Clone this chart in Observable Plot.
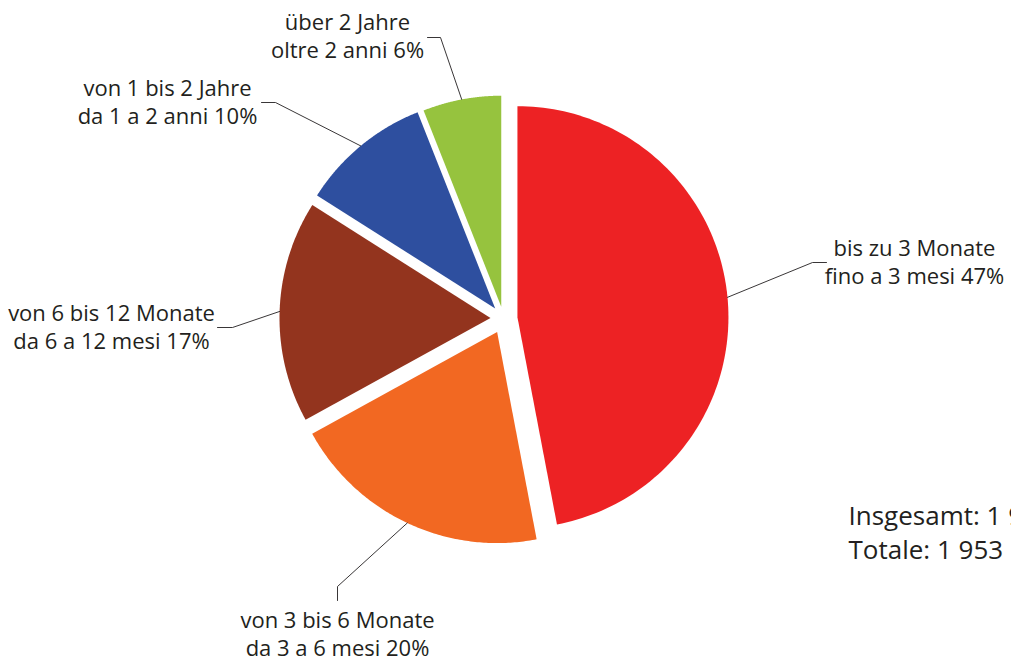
<!DOCTYPE html>
<html><head><meta charset="utf-8">
<script src="https://cdn.jsdelivr.net/npm/d3@7"></script>
<script src="https://cdn.jsdelivr.net/npm/@observablehq/plot@0.6"></script>
<style>html,body{margin:0;padding:0;background:#fff} svg{display:block}</style>
</head><body><div id="chart"></div>
<script>
// ---- data ----
const categoriesDE = ["bis zu 3 Monate", "von 3 bis 6 Monate", "von 6 bis 12 Monate", "von 1 bis 2 Jahre", "über 2 Jahre"];
const categoriesIT = ["fino a 3 mesi", "da 3 a 6 mesi", "da 6 a 12 mesi", "da 1 a 2 anni", "oltre 2 anni"];
const shares = [47, 20, 17, 10, 6];
const colors = ["#ED2224", "#F26822", "#93341E", "#2E4F9F", "#96C33E"];
const totalLabels = ["Insgesamt: 1 953", "Totale: 1 953"];

// ---- layout ----
const W = 1011, H = 659;
const CX = 503, CY = 318, R = 211;
const explode = [14, 15, 13, 13, 12];
const labelLayout = [
  {elbow: [812, 262], end: [826, 262], text: [914, 283]},
  {elbow: [337, 586], end: [337, 600], text: [337, 655]},
  {elbow: [232, 327], end: [217, 327], text: [111, 348]},
  {elbow: [275, 102], end: [261, 102], text: [167, 123]},
  {elbow: [440, 37], end: [427, 37], text: [347, 57]}
];
const ink = "#231F20";

const arcs = d3.pie().sort(null).value(d => d)(shares);

const slices = arcs.map((a, i) => {
  const mid = (a.startAngle + a.endAngle) / 2;
  const ox = CX + explode[i] * Math.sin(mid);
  const oy = CY - explode[i] * Math.cos(mid);
  const n = 120;
  const pts = [{x: ox, y: oy}];
  for (let k = 0; k <= n; k++) {
    const t = a.startAngle + (a.endAngle - a.startAngle) * k / n;
    pts.push({x: ox + R * Math.sin(t), y: oy - R * Math.cos(t)});
  }
  pts.push({x: ox, y: oy});
  return {pts, mid, ox, oy};
});

const leaders = [];
slices.forEach((s, i) => {
  const L = labelLayout[i];
  leaders.push({i, x: s.ox + R * Math.sin(s.mid), y: s.oy - R * Math.cos(s.mid)});
  leaders.push({i, x: L.elbow[0], y: L.elbow[1]});
  leaders.push({i, x: L.end[0], y: L.end[1]});
});

const labels = shares.map((v, i) => ({
  x: labelLayout[i].text[0],
  y: labelLayout[i].text[1],
  text: `${categoriesDE[i]}\n${categoriesIT[i]} ${v}%`
}));

const chart = Plot.plot({
  width: W, height: H, margin: 0,
  style: {fontFamily: "'Open Sans', sans-serif", background: "#fff"},
  x: {domain: [0, W], range: [0, W], axis: null},
  y: {domain: [0, H], range: [0, H], axis: null},
  marks: [
    ...slices.map((s, i) => Plot.line(s.pts, {x: "x", y: "y", fill: colors[i], stroke: "none"})),
    Plot.line(leaders, {x: "x", y: "y", z: "i", stroke: ink, strokeWidth: 0.9}),
    Plot.text(labels, {x: "x", y: "y", text: "text", textAnchor: "middle", lineAnchor: "bottom", lineHeight: 1.27, fontSize: 22, fill: ink}),
    Plot.text([totalLabels.join("\n")], {x: () => 848, y: () => 558, text: d => d, textAnchor: "start", lineAnchor: "bottom", lineHeight: 1.27, fontSize: 26, fill: ink})
  ]
});
document.getElementById("chart").appendChild(chart);
</script>
</body></html>
